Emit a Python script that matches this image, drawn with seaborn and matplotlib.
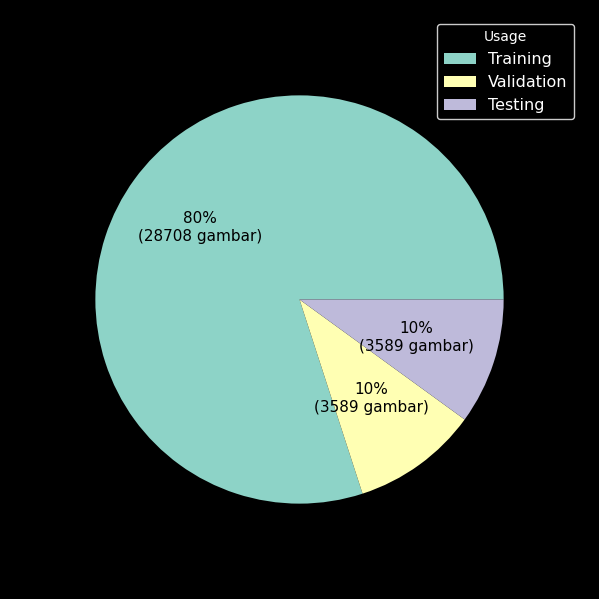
import matplotlib
matplotlib.use('Agg')
import matplotlib.pyplot as plt
import seaborn as sns

usage = ['Training', 'Validation', 'Testing']
counts = [28708, 3589, 3589]

plt.style.use('dark_background')
colors = sns.color_palette('Set3', 3)

total = sum(counts)

def fmt(pct):
    n = int(round(pct * total / 100))
    return f"{pct:.0f}%\n({n} gambar)"

fig = plt.figure(figsize=(5.99, 5.99), dpi=100)
ax = fig.add_axes([0.074, 0.074, 0.852, 0.852])
wedges, texts, autotexts = ax.pie(counts, colors=colors, autopct=fmt,
                                  textprops=dict(color='black', fontsize=11))
fig.legend(wedges, usage, title='Usage', loc='upper right',
           bbox_to_anchor=(0.972, 0.974), fontsize=11.5, title_fontsize=10,
           facecolor='black', edgecolor='white')
ax.set_aspect('equal')
fig.savefig('out.png', dpi=100)
